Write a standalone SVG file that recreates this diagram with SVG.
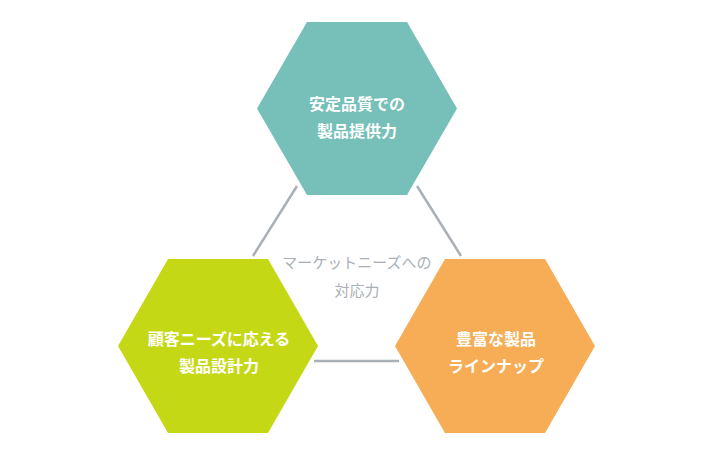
<svg xmlns="http://www.w3.org/2000/svg" width="712" height="456" viewBox="0 0 712 456">
<style>
.hex-label{font-family:"Noto Sans CJK JP","Noto Sans",sans-serif;font-size:16px;font-weight:700;fill:#ffffff;text-anchor:middle}
.center-label{font-family:"Noto Sans CJK JP","Noto Sans",sans-serif;font-size:15px;fill:#a9b0b6;text-anchor:middle}
.conn{stroke:#a9b0b6;stroke-width:2.5;fill:none}
</style>
<rect width="712" height="456" fill="#ffffff"/>
<g id="connectors">
<line class="conn" x1="297" y1="186" x2="253" y2="256"/>
<line class="conn" x1="417" y1="186" x2="461" y2="256"/>
<line class="conn" x1="314" y1="361" x2="399" y2="361"/>
</g>
<g id="center">
<text class="center-label" x="357" y="268">マーケットニーズへの</text>
<text class="center-label" x="357" y="296">対応力</text>
</g>
<g id="top">
<polygon points="307,22 407,22 457,108.5 407,195 307,195 257,108.5" fill="#76c0b9"/>
<text class="hex-label" x="357" y="110">安定品質での</text>
<text class="hex-label" x="357" y="137">製品提供力</text>
</g>
<g id="left">
<polygon points="168,259 268,259 318,346 268,433 168,433 118,346" fill="#c5d816"/>
<text class="hex-label" x="219" y="345">顧客ニーズに応える</text>
<text class="hex-label" x="219" y="372">製品設計力</text>
</g>
<g id="right">
<polygon points="445,259 545,259 595,346 545,433 445,433 395,346" fill="#f6ad55"/>
<text class="hex-label" x="496" y="345">豊富な製品</text>
<text class="hex-label" x="496" y="372">ラインナップ</text>
</g>
</svg>
